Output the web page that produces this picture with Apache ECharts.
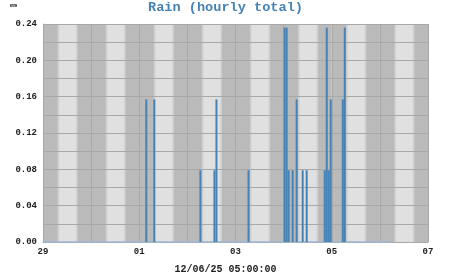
<!DOCTYPE html>
<html>
<head>
<meta charset="utf-8">
<script src="https://cdn.jsdelivr.net/npm/echarts@6/dist/echarts.min.js"></script>
<style>
html,body{margin:0;padding:0;background:#fff;}
#chart{width:451px;height:275px;}
</style>
</head>
<body>
<div id="chart"></div>
<script>
// ---- data ----
const periodStart = '2025-11-29 00:00';
const periodEnd = '2025-12-07 00:00';
const dataEnd = '2025-12-06 05:00';
const stampText = '12/06/25 05:00:00';
const dayStarts = ['2025-11-29','2025-11-30','2025-12-01','2025-12-02','2025-12-03','2025-12-04','2025-12-05','2025-12-06'];
const dawnHour = 7.2, sunriseHour = 8.0, sunsetHour = 16.5, duskHour = 17.3;
const xTickLabels = ['29','01','03','05','07'];
const yTicks = [0, 0.04, 0.08, 0.12, 0.16, 0.20, 0.24];
const rainTimes = ['2025-12-01 03:00','2025-12-01 07:00','2025-12-02 06:00','2025-12-02 13:00','2025-12-02 14:00',
  '2025-12-03 06:00','2025-12-04 00:00','2025-12-04 01:00','2025-12-04 02:00','2025-12-04 04:00','2025-12-04 06:00',
  '2025-12-04 09:00','2025-12-04 11:00','2025-12-04 20:00','2025-12-04 21:00','2025-12-04 22:00','2025-12-04 23:00',
  '2025-12-05 05:00','2025-12-05 06:00'];
const rainValues = [0.157,0.157,0.079,0.079,0.157,0.079,0.236,0.236,0.079,0.079,0.157,0.079,0.079,0.079,0.236,0.079,0.157,0.157,0.236];

// ---- helpers ----
const HOUR = 3600000, DAY = 86400000;
function ts(s){
  const [d,t] = s.split(' ');
  const [Y,M,D] = d.split('-').map(Number);
  const [h,m] = (t||'00:00').split(':').map(Number);
  return Date.UTC(Y,M-1,D,h,m);
}
const xMin = ts(periodStart), xMax = ts(periodEnd);
const FONT = '"Liberation Mono","DejaVu Sans Mono",monospace';

const chart = echarts.init(document.getElementById('chart'), null, {renderer:'canvas'});
chart.setOption({
  animation:false,
  title:{text:'Rain (hourly total)', left:'center', top:1, padding:0,
    textStyle:{fontFamily:FONT, fontSize:13.6, fontWeight:'bold', color:'#4682b4'}},
  grid:{left:43, right:23, top:24, bottom:33, containLabel:false},
  xAxis:{type:'value', min:xMin, max:xMax, interval:DAY,
    axisLine:{show:true, lineStyle:{color:'#a8a8a8'}}, axisTick:{show:false},
    splitLine:{show:true, lineStyle:{color:'#a8a8a8', width:1}},
    axisLabel:{margin:5, fontFamily:FONT, fontSize:9, fontWeight:'bold', color:'#222',
      formatter:function(v){const k=Math.round((v-xMin)/DAY); return k%2===0 ? (xTickLabels[k/2]||'') : '';}}},
  yAxis:{type:'value', min:0, max:0.24, interval:0.02,
    axisLine:{show:true, lineStyle:{color:'#a8a8a8'}}, axisTick:{show:false},
    splitLine:{show:true, lineStyle:{color:'#a8a8a8', width:1}},
    axisLabel:{margin:6, fontFamily:FONT, fontSize:9, fontWeight:'bold', color:'#222',
      formatter:function(v){const k=Math.round(v/0.02); if(k%2) return ''; const t=yTicks[k/2]; return t===undefined?'':t.toFixed(2);}}},
  graphic:[
    {type:'text', left:10, top:2, style:{text:'mm', font:'bold 6px '+FONT, fill:'#222'}},
    {type:'text', x:225.5, y:269, style:{text:stampText, font:'bold 10px '+FONT, fill:'#222', align:'center', verticalAlign:'middle'}}
  ],
  series:[
    {type:'custom', z:-1, silent:true,
      data:dayStarts.map(d=>[ts(d+' 00:00')]),
      renderItem:function(params, api){
        const t0 = api.value(0);
        const cs = params.coordSys;
        const x0 = api.coord([t0,0])[0], x1 = api.coord([t0+DAY,0])[0];
        const a = api.coord([t0+dawnHour*HOUR,0])[0], b = api.coord([t0+duskHour*HOUR,0])[0];
        const c = api.coord([t0+sunriseHour*HOUR,0])[0], d = api.coord([t0+sunsetHour*HOUR,0])[0];
        return {type:'group', children:[
          {type:'rect', shape:{x:x0, y:cs.y, width:x1-x0, height:cs.height}, style:{fill:'#bababa'}},
          {type:'rect', shape:{x:a, y:cs.y, width:b-a, height:cs.height}, style:{fill:'#cfcfcf'}},
          {type:'rect', shape:{x:c, y:cs.y, width:d-c, height:cs.height}, style:{fill:'#e0e0e0'}}
        ]};
      }},
    {type:'line', silent:true, symbol:'none', z:3,
      data:[[ts(periodStart),0],[ts(dataEnd),0]],
      lineStyle:{color:'#9db9d6', width:1.5}},
    {type:'custom', silent:true, z:4,
      data:rainTimes.map((t,i)=>[ts(t), rainValues[i]]),
      renderItem:function(params, api){
        const t = api.value(0), v = api.value(1);
        const p0 = api.coord([t, v]), p1 = api.coord([t+HOUR, 0]);
        return {type:'rect', shape:{x:p0[0], y:p0[1], width:p1[0]-p0[0], height:p1[1]-p0[1]},
          style:{fill:'#4682b4'}};
      }}
  ]
});
</script>
</body>
</html>
